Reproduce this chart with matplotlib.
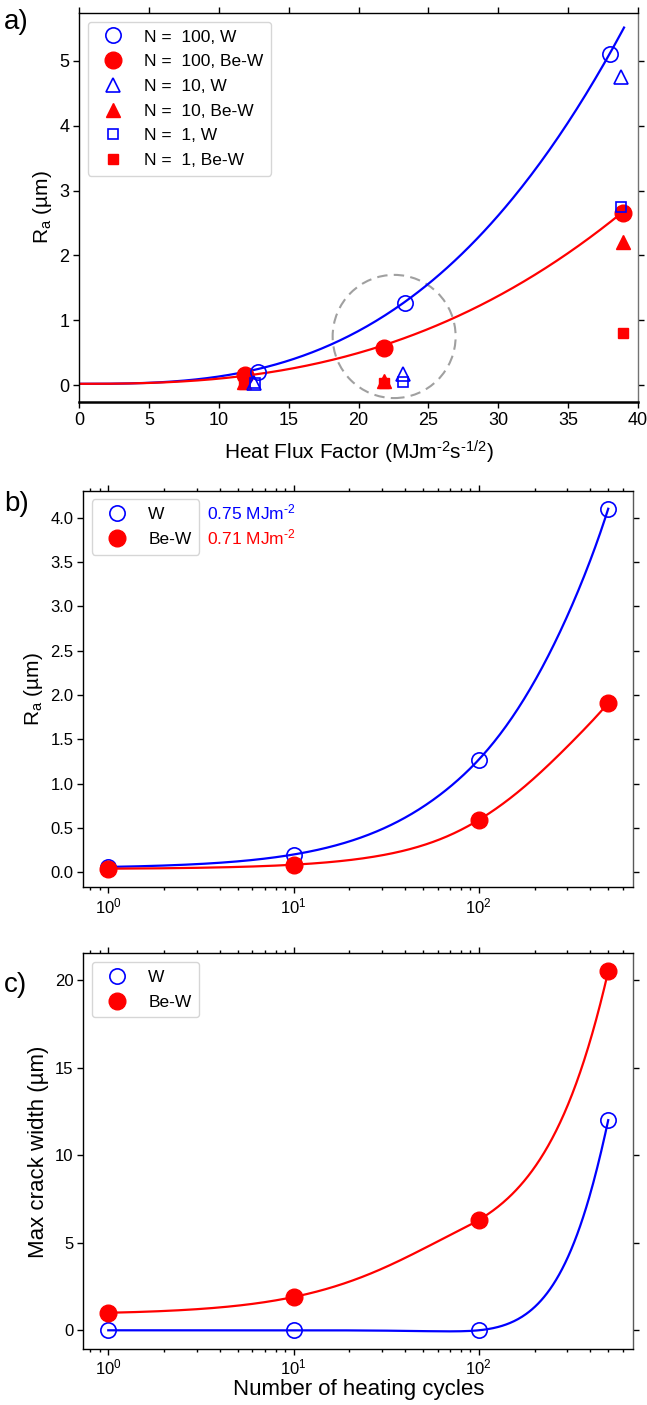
import numpy as np
import matplotlib
matplotlib.use("Agg")
import matplotlib.pyplot as plt
from matplotlib.patches import Ellipse

plt.rcParams['font.family'] = ['Liberation Sans', 'DejaVu Sans']
plt.rcParams['mathtext.fontset'] = 'custom'
plt.rcParams['mathtext.rm'] = 'Liberation Sans'
plt.rcParams['mathtext.it'] = 'Liberation Sans:italic'
plt.rcParams['mathtext.bf'] = 'Liberation Sans:bold'

BLUE = '#0000ff'
RED = '#ff0000'
HY = '\u2010'  # short hyphen for exponents

# ---- (a) roughness vs heat flux factor ----
hff_n100_w = [12.8, 23.3, 38.0]
ra_n100_w = [0.20, 1.27, 5.10]
hff_n100_bew = [11.9, 21.8, 38.9]
ra_n100_bew = [0.15, 0.58, 2.65]
hff_n10_w = [12.5, 23.2, 38.8]
ra_n10_w = [0.04, 0.17, 4.75]
hff_n10_bew = [11.8, 21.8, 38.9]
ra_n10_bew = [0.05, 0.06, 2.20]
hff_n1_w = [12.6, 23.2, 38.8]
ra_n1_w = [0.03, 0.05, 2.75]
hff_n1_bew = [11.8, 21.8, 38.9]
ra_n1_bew = [0.02, 0.03, 0.80]

# ---- (b) roughness vs number of cycles ----
cycles = [1, 10, 100, 500]
ra_w = [0.06, 0.20, 1.27, 4.10]
ra_bew = [0.04, 0.085, 0.59, 1.91]

# ---- (c) max crack width vs number of cycles ----
crack_w = [0.0, 0.0, 0.0, 12.0]
crack_bew = [1.0, 1.9, 6.3, 20.5]


def power_fit(x, y):
    """Power law y = a*x^n, fitted in log-log space with weights ~ y."""
    x = np.asarray(x, float)
    y = np.asarray(y, float)
    n, lna = np.polyfit(np.log(x), np.log(y), 1, w=y)
    return np.exp(lna), n


def natural_spline(x, y, xs):
    """Natural cubic spline through (x, y), evaluated at xs."""
    x = np.asarray(x, float)
    y = np.asarray(y, float)
    n = len(x)
    h = np.diff(x)
    A = np.zeros((n, n))
    r = np.zeros(n)
    A[0, 0] = A[-1, -1] = 1.0
    for i in range(1, n - 1):
        A[i, i - 1] = h[i - 1]
        A[i, i] = 2 * (h[i - 1] + h[i])
        A[i, i + 1] = h[i]
        r[i] = 6 * ((y[i + 1] - y[i]) / h[i] - (y[i] - y[i - 1]) / h[i - 1])
    M = np.linalg.solve(A, r)
    k = np.clip(np.searchsorted(x, xs) - 1, 0, n - 2)
    hk = h[k]
    a = (x[k + 1] - xs) / hk
    b = (xs - x[k]) / hk
    return (a * y[k] + b * y[k + 1]
            + ((a ** 3 - a) * M[k] + (b ** 3 - b) * M[k + 1]) * hk ** 2 / 6)


def style_axes(ax, labelsize=12, right_color='0.35'):
    ax.tick_params(which='both', direction='out', top=True, right=True,
                   labelsize=labelsize, width=1.0, color='black', pad=3)
    ax.tick_params(which='major', length=4)
    ax.tick_params(which='minor', length=2.5)
    for s in ax.spines.values():
        s.set_linewidth(1.0)
    ax.spines['right'].set_color(right_color)


fig = plt.figure(figsize=(6.47, 14.05), dpi=100)

open_kw = dict(mfc='none', mec=BLUE, mew=1.2, ls='none')
fill_kw = dict(color=RED, ls='none')
leg_kw = dict(loc='upper left', fontsize=12.5, labelspacing=0.55, borderpad=0.45)

# ================= panel (a) =================
ax1 = fig.add_axes([0.1221, 0.7139, 0.8640, 0.2769])
xfit = np.linspace(0, 39, 300)
aw, nw = power_fit(hff_n100_w, ra_n100_w)
ab, nb = power_fit(hff_n100_bew, ra_n100_bew)
ax1.plot(xfit, aw * xfit ** nw + 0.02, color=BLUE, lw=1.6, zorder=2)
ax1.plot(xfit, ab * xfit ** nb + 0.02, color=RED, lw=1.6, zorder=2)

ax1.plot(hff_n1_bew, ra_n1_bew, marker='s', ms=7, label='N =  1, Be-W', **fill_kw)
ax1.plot(hff_n10_bew, ra_n10_bew, marker='^', ms=10, label='N =  10, Be-W', **fill_kw)
ax1.plot(hff_n100_bew, ra_n100_bew, marker='o', ms=12, label='N =  100, Be-W', **fill_kw)
ax1.plot(hff_n1_w, ra_n1_w, marker='s', ms=7, label='N =  1, W', **open_kw)
ax1.plot(hff_n10_w, ra_n10_w, marker='^', ms=10, label='N =  10, W', **open_kw)
ax1.plot(hff_n100_w, ra_n100_w, marker='o', ms=11, label='N =  100, W', **open_kw)

ax1.add_patch(Ellipse((22.55, 0.75), 8.8, 1.9, fill=False, ls=(0, (5, 3)),
                      ec='#a0a0a0', lw=1.5, zorder=1))

handles, labels = ax1.get_legend_handles_labels()
order = ['N =  100, W', 'N =  100, Be-W', 'N =  10, W', 'N =  10, Be-W',
         'N =  1, W', 'N =  1, Be-W']
hmap = dict(zip(labels, handles))
ax1.legend([hmap[l] for l in order], order, **leg_kw)

ax1.set_xlim(0, 40)
ax1.set_ylim(-0.26, 5.74)
ax1.set_xticks(np.arange(0, 41, 5))
ax1.set_yticks(np.arange(0, 6, 1))
ax1.set_xlabel('Heat Flux Factor (MJm$^{\\mathrm{' + HY + '2}}$s$^{\\mathrm{' + HY + '1/2}}$)',
               fontsize=15, labelpad=7)
ax1.set_ylabel(r'R$_{\mathrm{a}}$ (µm)', fontsize=15)
style_axes(ax1, labelsize=13, right_color='0.45')
ax1.spines['bottom'].set_linewidth(1.8)
fig.text(0.006, 0.984, 'a)', fontsize=20, va='center', ha='left')

# ================= panel (b) =================
xs = np.logspace(0, np.log10(cycles[-1]), 500)
ax2 = fig.add_axes([0.1287, 0.3689, 0.8500, 0.2818])
ax2.plot(xs, natural_spline(cycles, ra_w, xs), color=BLUE, lw=1.6)
ax2.plot(xs, natural_spline(cycles, ra_bew, xs), color=RED, lw=1.6)
ax2.plot(cycles, ra_w, marker='o', ms=11, label='W', **open_kw)
ax2.plot(cycles, ra_bew, marker='o', ms=12, label='Be-W', **fill_kw)
ax2.set_xscale('log')
ax2.set_yticks(np.arange(0, 4.01, 0.5))
ax2.yaxis.set_major_formatter(matplotlib.ticker.FormatStrFormatter('%.1f'))
ax2.set_ylabel(r'R$_{\mathrm{a}}$ (µm)', fontsize=15)
ax2.legend(**leg_kw)
ax2.text(0.225, 0.944, '0.75 MJm$^{\\mathrm{' + HY + '2}}$', color=BLUE, fontsize=12.5,
         transform=ax2.transAxes, va='center')
ax2.text(0.225, 0.881, '0.71 MJm$^{\\mathrm{' + HY + '2}}$', color=RED, fontsize=12.5,
         transform=ax2.transAxes, va='center')
style_axes(ax2)
fig.text(0.006, 0.641, 'b)', fontsize=20, va='center', ha='left')

# ================= panel (c) =================
ax3 = fig.add_axes([0.1287, 0.0396, 0.8500, 0.2819])
ax3.plot(xs, natural_spline(cycles, crack_bew, xs), color=RED, lw=1.6)
ax3.plot(xs, natural_spline(cycles, crack_w, xs), color=BLUE, lw=1.6)
ax3.plot(cycles, crack_w, marker='o', ms=11, label='W', **open_kw)
ax3.plot(cycles, crack_bew, marker='o', ms=12, label='Be-W', **fill_kw)
ax3.set_xscale('log')
ax3.set_yticks([0, 5, 10, 15, 20])
ax3.set_ylabel('Max crack width (µm)', fontsize=16)
ax3.set_xlabel('Number of heating cycles', fontsize=16, labelpad=1)
ax3.legend(**leg_kw)
style_axes(ax3)
ax3.tick_params(axis='x', pad=2)
fig.text(0.006, 0.299, 'c)', fontsize=20, va='center', ha='left')

fig.savefig('out.png', dpi=100)
